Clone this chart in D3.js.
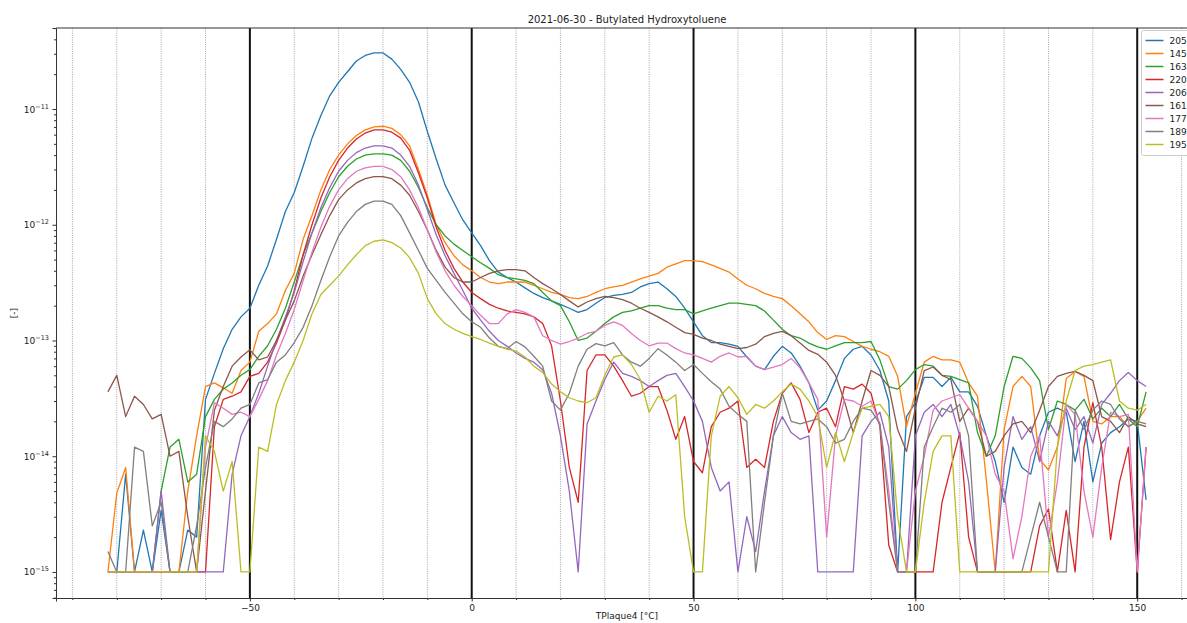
<!DOCTYPE html>
<html>
<head>
<meta charset="utf-8">
<script src="https://cdn.jsdelivr.net/npm/d3@7/dist/d3.min.js"></script>
<style>
body { margin: 0; background: #fff; }
svg text { font-family: "DejaVu Sans", sans-serif; fill: #222; }
</style>
</head>
<body>
<svg width="1187" height="623"></svg>
<script>
// sample temperatures (TPlaque4, °C)
var temperature = [-82, -80, -78, -76, -74, -72, -70, -68, -66, -64, -62, -60, -58, -56, -54, -52,
    -50, -48, -46, -44, -42, -40, -38, -36, -34, -32, -30, -28, -26, -24, -22, -20, -18, -16, -14, -12,
    -10, -8, -6, -4, -2, 0, 2, 4, 6, 8, 10, 12, 14, 16, 18, 20, 22, 24, 26, 28, 30, 32, 34, 36, 38, 40,
    42, 44, 46, 48, 50, 52, 54, 56, 58, 60, 62, 64, 66, 68, 70, 72, 74, 76, 78, 80, 82, 84, 86, 88, 90,
    92, 94, 96, 98, 100, 102, 104, 106, 108, 110, 112, 114, 116, 118, 120, 122, 124, 126, 128, 130,
    132, 134, 136, 138, 140, 142, 144, 146, 148, 150, 152];

var labels = ["205", "145", "163", "220", "206", "161", "177", "189", "195"];
var colors = ["#1f77b4", "#ff7f0e", "#2ca02c", "#d62728", "#9467bd", "#8c564b", "#e377c2", "#7f7f7f", "#bcbd22"];

var s205 = [1e-15, 1e-15, 7e-15, 1e-15, 2.3e-15, 1e-15, 3.4e-15, 1e-15, 1e-15, 2.3e-15, 2e-15, 3.1e-14, 5.2e-14, 8.5e-14, 1.25e-13, 1.6e-13,
    1.9e-13, 3e-13, 4.4e-13, 7.5e-13, 1.3e-12, 1.9e-12, 3.2e-12, 5.6e-12, 8.8e-12, 1.3e-11, 1.7e-11, 2.1e-11, 2.6e-11, 2.9e-11, 3.05e-11, 3.05e-11,
    2.7e-11, 2.2e-11, 1.7e-11, 1.15e-11, 6.4e-12, 3.7e-12, 2.2e-12, 1.55e-12, 1.1e-12, 8.5e-13,
    6.6e-13, 4.9e-13, 3.9e-13, 3.5e-13, 3.2e-13, 2.85e-13, 2.55e-13, 2.35e-13, 2.2e-13, 2.05e-13,
    1.9e-13, 1.75e-13, 1.85e-13, 2.1e-13, 2.35e-13, 2.45e-13, 2.5e-13, 2.6e-13, 2.9e-13, 3.1e-13,
    3.2e-13, 2.8e-13, 2.4e-13, 1.9e-13, 1.45e-13, 1.1e-13, 9.6e-14, 9.6e-14, 9.3e-14, 8.9e-14,
    7.2e-14, 6e-14, 5.6e-14, 7.3e-14, 8.9e-14, 7.8e-14, 6e-14, 4.3e-14, 2.5e-14, 3e-14,
    4.5e-14, 7e-14, 8.4e-14, 8.9e-14, 7.5e-14, 5.5e-14, 3e-14, 1e-15, 2.2e-14, 2.9e-14,
    4.8e-14, 4.8e-14, 4e-14, 4.8e-14, 3.6e-14, 3.6e-14, 2.7e-14, 1.5e-14, 9e-15, 4e-15,
    1.2e-14, 8e-15, 7e-15, 1.5e-14, 2.4e-14, 2.6e-14, 2.4e-14, 9e-15, 2e-14, 6e-15,
    1.3e-14, 1.6e-14, 1.8e-14, 2.1e-14, 2e-14, 4.2e-15];

var s145 = [1e-15, 4.8e-15, 8e-15, 1e-15, 1e-15, 1e-15, 1e-15, 1e-15, 1e-15, 5e-15, 1.5e-14, 4e-14, 4.3e-14, 3.9e-14, 3.5e-14, 5.5e-14,
    6.5e-14, 1.2e-13, 1.4e-13, 1.7e-13, 2.7e-13, 3.8e-13, 7.5e-13, 1.2e-12, 2e-12, 3e-12, 4e-12, 5e-12, 5.9e-12, 6.6e-12, 7e-12, 7.1e-12,
    6.8e-12, 6e-12, 4.8e-12, 3e-12, 1.8e-12, 1e-12, 7e-13, 5.4e-13, 4.5e-13, 4e-13,
    3.5e-13, 3.2e-13, 3.1e-13, 3.2e-13, 3.2e-13, 3.2e-13, 3e-13, 2.8e-13, 2.6e-13, 2.5e-13,
    2.35e-13, 2.3e-13, 2.4e-13, 2.6e-13, 2.8e-13, 2.9e-13, 3e-13, 3.2e-13, 3.4e-13, 3.6e-13,
    3.8e-13, 4.3e-13, 4.6e-13, 4.9e-13, 4.9e-13, 4.8e-13, 4.5e-13, 4.2e-13, 3.9e-13, 3.4e-13,
    3e-13, 2.8e-13, 2.55e-13, 2.4e-13, 2.3e-13, 2e-13, 1.7e-13, 1.45e-13, 1.17e-13, 1.02e-13,
    1.1e-13, 1.08e-13, 9.8e-14, 8.9e-14, 8.4e-14, 8e-14, 7.3e-14, 4.9e-14, 1.8e-14, 3.5e-14,
    6.5e-14, 7.3e-14, 6.8e-14, 6.8e-14, 6.5e-14, 4.3e-14, 3.3e-14, 6.2e-15, 1e-15, 1.7e-14,
    4e-14, 4.9e-14, 4e-14, 9.4e-15, 7.6e-15, 1.2e-14, 4.7e-14, 5.4e-14, 4.9e-14, 2e-14,
    1.9e-14, 2.2e-14, 2.2e-14, 1.8e-14, 2e-14, 2.6e-14];

var s163 = [1e-15, 1e-15, 1e-15, 1e-15, 1e-15, 1e-15, 5e-15, 1.2e-14, 1.4e-14, 6e-15, 7e-15, 2.2e-14, 3.1e-14, 3.8e-14, 4.3e-14, 5e-14,
    5.6e-14, 7.3e-14, 9e-14, 1.25e-13, 1.9e-13, 3.2e-13, 5.5e-13, 8.5e-13, 1.3e-12, 1.9e-12, 2.6e-12, 3.2e-12, 3.7e-12, 4e-12, 4.1e-12, 4.1e-12,
    4e-12, 3.6e-12, 2.9e-12, 2.1e-12, 1.4e-12, 1e-12, 8e-13, 6.8e-13, 6e-13, 5.3e-13,
    4.7e-13, 4.2e-13, 3.7e-13, 3.5e-13, 3.4e-13, 3.3e-13, 3.1e-13, 2.6e-13, 2.2e-13, 2e-13,
    1.45e-13, 1e-13, 1.05e-13, 1.2e-13, 1.4e-13, 1.6e-13, 1.75e-13, 1.8e-13, 1.9e-13, 2e-13,
    2e-13, 1.9e-13, 1.85e-13, 1.85e-13, 1.7e-13, 1.8e-13, 1.9e-13, 2e-13, 2.1e-13, 2.1e-13,
    2.05e-13, 2e-13, 1.8e-13, 1.5e-13, 1.25e-13, 1.1e-13, 1.05e-13, 9.5e-14, 8.8e-14, 8.4e-14,
    9e-14, 9.6e-14, 9.6e-14, 9.6e-14, 9.8e-14, 6.8e-14, 4e-14, 3.8e-14, 4.5e-14, 5.6e-14,
    6.2e-14, 6e-14, 5e-14, 4.9e-14, 4.6e-14, 4.3e-14, 1.6e-14, 1e-14, 1.5e-14, 4e-14,
    7.3e-14, 7e-14, 5.8e-14, 4.5e-14, 1.7e-14, 3e-14, 2.8e-14, 2.5e-14, 3.1e-14, 2.1e-14,
    2.6e-14, 2.2e-14, 2.8e-14, 2.1e-14, 1.8e-14, 3.6e-14];

var s220 = [1e-15, 1e-15, 1e-15, 1e-15, 1e-15, 1e-15, 1e-15, 1e-15, 1e-15, 1e-15, 1e-15, 1e-15, 1.8e-14, 3.1e-14, 3.3e-14, 3.6e-14,
    4.9e-14, 5.2e-14, 6.5e-14, 9.5e-14, 1.5e-13, 2.7e-13, 5.5e-13, 1e-12, 1.7e-12, 2.6e-12, 3.6e-12, 4.6e-12, 5.5e-12, 6.2e-12, 6.6e-12, 6.6e-12,
    6.3e-12, 5.6e-12, 4.4e-12, 2.8e-12, 1.7e-12, 9.5e-13, 6e-13, 4.2e-13, 3.2e-13, 2.6e-13,
    2.3e-13, 2.05e-13, 1.9e-13, 1.8e-13, 1.75e-13, 1.7e-13, 1.6e-13, 1.4e-13, 9e-14, 3e-14,
    8e-15, 4e-15, 5.5e-14, 7.5e-14, 7.5e-14, 6e-14, 4.5e-14, 3.3e-14, 3.5e-14, 4e-14,
    4e-14, 2.5e-14, 1.4e-14, 2.2e-14, 9e-15, 7.2e-15, 1.8e-14, 2.4e-14, 2.6e-14, 3e-14,
    8e-15, 9.4e-15, 8e-15, 2e-14, 3.5e-14, 4.3e-14, 3.1e-14, 1.6e-14, 2.4e-14, 2.6e-14,
    1.8e-14, 4e-14, 3.8e-14, 4.2e-14, 3.5e-14, 1.8e-14, 1.7e-15, 1e-15, 1e-15, 1e-15,
    1e-15, 1e-15, 4e-15, 8e-15, 1.6e-14, 2e-15, 1e-15, 1e-15, 1e-15, 1e-15,
    1e-15, 1e-15, 1e-15, 2.5e-15, 3.5e-15, 1e-15, 3.4e-15, 1e-15, 1.2e-14, 2.9e-14,
    1.2e-14, 1.9e-15, 6e-15, 1.2e-14, 1e-15, 1.2e-14];

var s206 = [1e-15, 1e-15, 1e-15, 1e-15, 1e-15, 1e-15, 5e-15, 1e-15, 1e-15, 1e-15, 1e-15, 1e-15, 1e-15, 1e-15, 7e-15, 1.5e-14,
    2.2e-14, 3.5e-14, 6e-14, 1e-13, 1.6e-13, 2.6e-13, 4.8e-13, 8.5e-13, 1.4e-12, 2.1e-12, 2.9e-12, 3.6e-12, 4.2e-12, 4.6e-12, 4.8e-12, 4.8e-12,
    4.6e-12, 4e-12, 3.2e-12, 2.2e-12, 1.35e-12, 8.2e-13, 5.4e-13, 3.8e-13, 2.7e-13, 1.9e-13,
    1.5e-13, 1.2e-13, 1e-13, 8.9e-14, 7.8e-14, 7e-14, 6.5e-14, 5.6e-14, 3.5e-14, 1.5e-14,
    5e-15, 1e-15, 1.9e-14, 3e-14, 4.6e-14, 6.5e-14, 5.2e-14, 4.9e-14, 4.5e-14, 4e-14,
    4.5e-14, 5e-14, 5.2e-14, 4e-14, 3e-14, 2e-14, 8e-15, 5e-15, 6e-15, 1e-15,
    3e-15, 1.5e-15, 5e-15, 1.5e-14, 2.2e-14, 1.6e-14, 1.4e-14, 1.5e-14, 1e-15, 1e-15,
    1e-15, 1e-15, 1e-15, 1.5e-14, 2e-14, 2.4e-14, 1.2e-14, 1e-15, 1e-15, 1.5e-14,
    2.4e-14, 2.8e-14, 2.2e-14, 2.8e-14, 1.5e-14, 6e-15, 1e-15, 1e-15, 1e-15, 8e-15,
    2.2e-14, 1.4e-14, 1.8e-14, 9e-15, 2e-14, 1.5e-14, 2.6e-14, 1.7e-14, 2.2e-14, 1.3e-14,
    2.8e-14, 3.5e-14, 4.5e-14, 5.3e-14, 4.5e-14, 4e-14];

var s161 = [3.6e-14, 5e-14, 2.2e-14, 3.3e-14, 2.8e-14, 2.1e-14, 2.3e-14, 1e-14, 1.1e-14, 3e-15, 1e-15, 5e-15, 2.5e-14, 4e-14, 6e-14, 7.2e-14,
    8.3e-14, 6.8e-14, 7.2e-14, 1e-13, 1.5e-13, 2.2e-13, 3.6e-13, 5.5e-13, 8.2e-13, 1.2e-12, 1.65e-12, 2e-12, 2.3e-12, 2.5e-12, 2.6e-12, 2.6e-12,
    2.5e-12, 2.2e-12, 1.8e-12, 1.3e-12, 9e-13, 6e-13, 4.3e-13, 3.5e-13, 3.2e-13, 3.2e-13,
    3.5e-13, 3.8e-13, 4e-13, 4.1e-13, 4.1e-13, 4e-13, 3.5e-13, 3.1e-13, 2.8e-13, 2.5e-13,
    2.2e-13, 1.95e-13, 2.15e-13, 2.3e-13, 2.4e-13, 2.35e-13, 2.25e-13, 2.1e-13, 1.9e-13, 1.75e-13,
    1.6e-13, 1.45e-13, 1.3e-13, 1.17e-13, 1.13e-13, 1.05e-13, 1e-13, 9.3e-14, 8.9e-14, 8.5e-14,
    8.7e-14, 9.3e-14, 1.08e-13, 1.15e-13, 1.2e-13, 1.1e-13, 9.5e-14, 8.2e-14, 7.6e-14, 6.5e-14,
    5e-14, 3e-14, 1.6e-14, 3e-14, 5.5e-14, 5e-14, 4e-14, 1.7e-14, 1.1e-14, 2.6e-14,
    5.5e-14, 5.9e-14, 5e-14, 4.6e-14, 2e-14, 2.6e-14, 2e-14, 1e-14, 1.1e-14, 1.5e-14,
    1.9e-14, 2e-14, 1.6e-14, 2.5e-14, 4e-14, 4.9e-14, 5.2e-14, 5.4e-14, 5e-14, 4.5e-14,
    2.2e-14, 2e-14, 1.6e-14, 2.2e-14, 1.9e-14, 1.8e-14];

var s177 = [1e-15, 1e-15, 1e-15, 1e-15, 1e-15, 1e-15, 1e-15, 1e-15, 1e-15, 1e-15, 1e-15, 1.2e-14, 2.9e-14, 2.6e-14, 2.3e-14, 2.4e-14,
    2.2e-14, 3.1e-14, 4.5e-14, 7.5e-14, 1.15e-13, 1.85e-13, 3.3e-13, 5.8e-13, 9.5e-13, 1.45e-12, 2e-12, 2.5e-12, 2.9e-12, 3.1e-12, 3.2e-12, 3.2e-12,
    3e-12, 2.6e-12, 2e-12, 1.4e-12, 9e-13, 5.8e-13, 4e-13, 3e-13, 2.4e-13, 2e-13,
    1.65e-13, 1.4e-13, 1.4e-13, 1.7e-13, 1.85e-13, 1.75e-13, 1.6e-13, 1.1e-13, 1e-13, 9.3e-14,
    9.8e-14, 1.05e-13, 1.15e-13, 1.2e-13, 1.35e-13, 1.45e-13, 1.35e-13, 1.15e-13, 1e-13, 9e-14,
    9.5e-14, 9.5e-14, 8.5e-14, 7.8e-14, 7.5e-14, 7e-14, 6.5e-14, 7.3e-14, 7.8e-14, 7.2e-14,
    7.3e-14, 6e-14, 5.6e-14, 5.9e-14, 6.2e-14, 7e-14, 5.8e-14, 4.3e-14, 3.1e-14, 2e-15,
    1.5e-14, 3.1e-14, 3e-14, 2.7e-14, 3e-14, 1.9e-14, 5e-15, 1e-15, 1e-15, 5e-15,
    1e-14, 2.5e-14, 3e-14, 3.2e-14, 3.4e-14, 2.6e-14, 2e-14, 1.5e-14, 7e-15, 5e-15,
    1.3e-15, 3e-15, 1e-14, 1.5e-14, 2e-15, 6e-15, 2.8e-14, 2.3e-14, 5e-15, 2e-15,
    8e-15, 2.4e-14, 2.2e-14, 2.3e-14, 1e-15, 1.2e-14];

var s189 = [1.5e-15, 1e-15, 1e-15, 1.2e-14, 1.1e-14, 2.5e-15, 4e-15, 1e-15, 1e-15, 1e-15, 2.5e-15, 8e-15, 2e-14, 1.8e-14, 2.1e-14, 2.6e-14,
    2.8e-14, 4.3e-14, 4.6e-14, 6.5e-14, 7.5e-14, 9.6e-14, 1.3e-13, 2e-13, 3.3e-13, 5.3e-13, 8e-13, 1.05e-12, 1.3e-12, 1.5e-12, 1.6e-12, 1.6e-12,
    1.5e-12, 1.2e-12, 8.5e-13, 6e-13, 4.2e-13, 3.3e-13, 2.6e-13, 2.1e-13, 1.7e-13, 1.45e-13,
    1.3e-13, 1.05e-13, 8.9e-14, 8.5e-14, 9.8e-14, 8.8e-14, 7.3e-14, 6e-14, 3e-14, 2.5e-14,
    3.5e-14, 6e-14, 8.4e-14, 9.4e-14, 9e-14, 9.6e-14, 7.5e-14, 6.5e-14, 6e-14, 7e-14,
    8.5e-14, 7.5e-14, 6.5e-14, 5.5e-14, 6.2e-14, 5.2e-14, 4.4e-14, 3.8e-14, 2.7e-14, 2.3e-14,
    2e-14, 1e-15, 4e-15, 1.5e-14, 3.5e-14, 2e-14, 1.9e-14, 2e-14, 2.1e-14, 1.8e-14,
    1.3e-14, 1.4e-14, 2e-14, 2.6e-14, 2.5e-14, 1.9e-14, 4e-15, 1e-15, 1e-15, 1e-15,
    1.2e-14, 1.8e-14, 2.6e-14, 2.4e-14, 2.8e-14, 1.5e-14, 1e-15, 1e-15, 1e-15, 1e-15,
    1e-15, 1e-15, 2e-15, 4e-15, 2e-15, 1e-15, 1e-15, 2.5e-14, 1.7e-14, 2.5e-14,
    3e-14, 2.8e-14, 2.1e-14, 1.8e-14, 2e-14, 1.9e-14];

var s195 = [1e-15, 1e-15, 1e-15, 1e-15, 1e-15, 1e-15, 1e-15, 1e-15, 1e-15, 1e-15, 1e-15, 1.5e-14, 1.1e-14, 5e-15, 9e-15, 1e-15,
    1e-15, 1.2e-14, 1.1e-14, 2.8e-14, 4.5e-14, 6.5e-14, 1e-13, 1.7e-13, 2.5e-13, 3e-13, 3.6e-13, 4.5e-13, 5.5e-13, 6.6e-13, 7.2e-13, 7.4e-13,
    7e-13, 6.3e-13, 5.2e-13, 3.8e-13, 2.3e-13, 1.7e-13, 1.4e-13, 1.25e-13, 1.15e-13, 1.08e-13,
    1.02e-13, 9.5e-14, 8.9e-14, 8.4e-14, 8.1e-14, 7.2e-14, 6e-14, 5.3e-14, 4.2e-14, 3.6e-14,
    3.2e-14, 3e-14, 2.9e-14, 3.2e-14, 5e-14, 7.2e-14, 7.5e-14, 6.2e-14, 4.6e-14, 2.4e-14,
    3.3e-14, 3e-14, 3.4e-14, 3e-15, 1e-15, 1e-15, 1.5e-14, 3.3e-14, 4e-14, 3.2e-14,
    2.3e-14, 2.8e-14, 2.6e-14, 3e-14, 3.6e-14, 4.2e-14, 3.8e-14, 3e-14, 2.2e-14, 8e-15,
    1.6e-14, 9e-15, 1.6e-14, 2.6e-14, 2.7e-14, 2.8e-14, 2.2e-14, 3e-15, 1e-15, 1e-15,
    4e-15, 1.1e-14, 1.5e-14, 1.5e-14, 1e-15, 1e-15, 1e-15, 1e-15, 1e-15, 1e-15,
    1e-15, 1e-15, 1e-15, 1e-15, 1e-15, 1.2e-14, 3e-14, 5.5e-14, 6e-14, 6.2e-14,
    6.5e-14, 6.8e-14, 3e-14, 2.6e-14, 2.5e-14, 2.8e-14];

var xMajor = [-50, 0, 50, 100, 150];
var xMinor = [-90, -80, -70, -60, -40, -30, -20, -10, 10, 20, 30, 40, 60, 70, 80, 90, 110, 120, 130, 140, 160];
var yMajor = [1e-15, 1e-14, 1e-13, 1e-12, 1e-11];
var yLabels = ["\u221215", "\u221214", "\u221213", "\u221212", "\u221211"];

function drawChart() {
    var series = [s205, s145, s163, s220, s206, s161, s177, s189, s195];
    var svg = d3.select("svg"),
        left = 56, right = 1198, top = 28, bottom = 598;

    var x = d3.scaleLinear()
        .domain([-93.7, 163.7])
        .range([left, right]);

    var y = d3.scaleLog()
        .domain([Math.pow(10, -15.225), Math.pow(10, -10.3)])
        .range([bottom, top]);

    svg.append("defs").append("clipPath").attr("id", "plot")
        .append("rect").attr("x", left).attr("y", top)
        .attr("width", right - left).attr("height", bottom - top);

    // dotted grid every 10 °C
    svg.append("g").selectAll("line")
        .data(xMinor)
        .enter().append("line")
        .attr("x1", d => x(d)).attr("x2", d => x(d))
        .attr("y1", top).attr("y2", bottom)
        .attr("stroke", "#9a9a9a")
        .attr("stroke-width", 0.9)
        .attr("stroke-dasharray", "1,1.3");

    // heavy lines every 50 °C
    svg.append("g").selectAll("line")
        .data(xMajor)
        .enter().append("line")
        .attr("x1", d => x(d)).attr("x2", d => x(d))
        .attr("y1", top).attr("y2", bottom)
        .attr("stroke", "#111")
        .attr("stroke-width", 2);

    var line = d3.line()
        .x((d, i) => x(temperature[i]))
        .y(d => y(d));

    svg.append("g").attr("clip-path", "url(#plot)")
        .selectAll("path")
        .data(series)
        .enter().append("path")
        .attr("d", line)
        .attr("fill", "none")
        .attr("stroke", (d, i) => colors[i])
        .attr("stroke-width", 1.3)
        .attr("stroke-linejoin", "round");

    // axes
    var xAxis = svg.append("g")
        .attr("transform", "translate(0," + bottom + ")")
        .call(d3.axisBottom(x).tickValues(xMajor).tickSize(3.5).tickPadding(3.5));
    svg.append("g")
        .attr("transform", "translate(0," + bottom + ")")
        .call(d3.axisBottom(x).tickValues(xMinor).tickSize(2).tickFormat(""))
        .select(".domain").remove();

    var minorY = [6e-16, 7e-16, 8e-16, 9e-16];
    yMajor.forEach(function(m) {
        [2, 3, 4, 5, 6, 7, 8, 9].forEach(function(k) { minorY.push(m * k); });
    });
    minorY = minorY.filter(v => v > y.domain()[0] && v < y.domain()[1]);

    svg.append("g")
        .attr("transform", "translate(" + left + ",0)")
        .call(d3.axisLeft(y).tickValues(yMajor).tickSize(3.5).tickPadding(3.5).tickFormat(""));
    svg.append("g")
        .attr("transform", "translate(" + left + ",0)")
        .call(d3.axisLeft(y).tickValues(minorY).tickSize(2).tickFormat(""))
        .select(".domain").remove();

    svg.selectAll(".domain").attr("stroke", "#333");
    svg.selectAll(".tick line").attr("stroke", "#333");

    xAxis.selectAll("text")
        .attr("font-size", 9)
        .attr("font-family", "DejaVu Sans")
        .attr("fill", "#222");

    var yText = svg.append("g").selectAll("text")
        .data(yMajor)
        .enter().append("text")
        .attr("x", left - 7)
        .attr("y", d => y(d) + 3.5)
        .attr("text-anchor", "end")
        .attr("font-size", 9);
    yText.append("tspan").text("10");
    yText.append("tspan")
        .attr("dy", -4)
        .attr("font-size", 6.5)
        .text((d, i) => yLabels[i]);

    // top and right spines
    svg.append("line").attr("x1", left).attr("x2", right).attr("y1", top).attr("y2", top)
        .attr("stroke", "#333");
    svg.append("line").attr("x1", right).attr("x2", right).attr("y1", top).attr("y2", bottom)
        .attr("stroke", "#333");

    svg.append("text")
        .attr("x", (left + right) / 2)
        .attr("y", 23)
        .attr("text-anchor", "middle")
        .attr("font-size", 10)
        .text("2021-06-30 - Butylated Hydroxytoluene");

    svg.append("text")
        .attr("x", (left + right) / 2)
        .attr("y", 619)
        .attr("text-anchor", "middle")
        .attr("font-size", 9)
        .text("TPlaque4 [\u00b0C]");

    svg.append("text")
        .attr("transform", "translate(17," + ((top + bottom) / 2) + ") rotate(-90)")
        .attr("text-anchor", "middle")
        .attr("font-size", 9)
        .text("[-]");

    // legend
    var legend = svg.append("g").attr("transform", "translate(1141.5,30.5)");
    legend.append("rect")
        .attr("width", 70).attr("height", 125).attr("rx", 2)
        .attr("fill", "#fff").attr("fill-opacity", 0.85)
        .attr("stroke", "#ccc");
    var item = legend.selectAll(".item")
        .data(labels)
        .enter().append("g")
        .attr("class", "item")
        .attr("transform", (d, i) => "translate(0," + (10 + i * 13) + ")");
    item.append("line")
        .attr("x1", 4).attr("x2", 22)
        .attr("stroke", (d, i) => colors[i])
        .attr("stroke-width", 1.5);
    item.append("text")
        .attr("x", 28)
        .attr("dy", "0.35em")
        .attr("font-size", 9)
        .text(d => d);
}

drawChart();
</script>
</body>
</html>
